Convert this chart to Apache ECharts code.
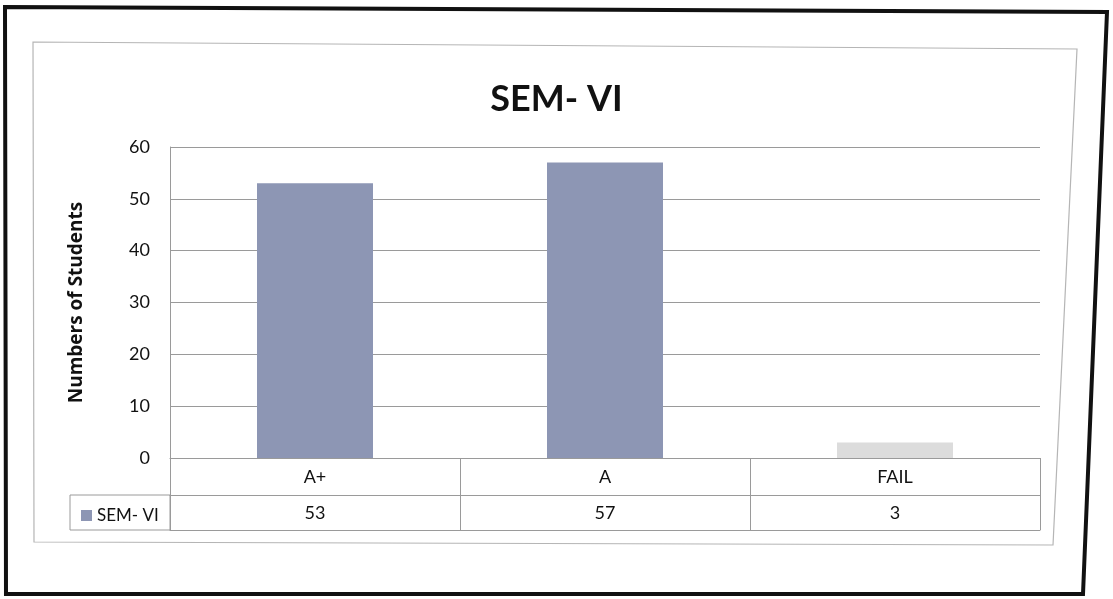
<!DOCTYPE html>
<html>
<head>
<meta charset="utf-8">
<script src="https://cdn.jsdelivr.net/npm/echarts@6/dist/echarts.min.js"></script>
<style>
  html, body { margin: 0; padding: 0; background: #fff; }
  #chart { width: 1113px; height: 599px; }
</style>
</head>
<body>
<div id="chart"></div>
<script>
// data
var categories = ['A+', 'A', 'FAIL'];
var semVI = [53, 57, 3];
var seriesName = 'SEM- VI';
var yMin = 0, yMax = 60, yStep = 10;

var barColor = '#8d96b4';
var failColor = '#dcdcdc';
var lineColor = '#9a9a9a';
var font = 'Lato, "Open Sans", sans-serif';

var chart = echarts.init(document.getElementById('chart'));

chart.setOption({
    backgroundColor: '#fff',
    animation: false,
    textStyle: { fontFamily: font, color: '#111' },
    title: {
        text: seriesName,
        left: 'center',
        top: 76,
        textStyle: { fontFamily: font, fontSize: 36, fontWeight: 'bold', color: '#111' }
    },
    legend: {
        data: [seriesName],
        left: 76,
        top: 502,
        icon: 'rect',
        itemWidth: 11,
        itemHeight: 11,
        itemGap: 4,
        textStyle: { fontFamily: font, fontSize: 17, color: '#111' }
    },
    grid: {
        left: 170,
        right: 73,
        top: 147,
        bottom: 141
    },
    xAxis: [
        {
            type: 'category',
            data: categories,
            axisLine: { show: true, lineStyle: { color: lineColor } },
            axisTick: { show: true, length: 72, lineStyle: { color: lineColor } },
            axisLabel: { fontFamily: font, fontSize: 18, color: '#111', margin: 10 }
        },
        {
            type: 'category',
            position: 'bottom',
            offset: 37,
            data: semVI.map(function (v) { return String(v); }),
            axisLine: { show: true, lineStyle: { color: lineColor } },
            axisTick: { show: false },
            axisLabel: { fontFamily: font, fontSize: 18, color: '#111', margin: 9 }
        },
        {
            type: 'category',
            position: 'bottom',
            offset: 72,
            data: categories,
            axisLine: { show: true, lineStyle: { color: lineColor } },
            axisTick: { show: false },
            axisLabel: { show: false }
        }
    ],
    yAxis: {
        type: 'value',
        min: yMin,
        max: yMax,
        interval: yStep,
        name: 'Numbers of Students',
        nameLocation: 'middle',
        nameGap: 84,
        nameTextStyle: { fontFamily: '"Open Sans", sans-serif', fontSize: 19, fontWeight: 'bold', color: '#111' },
        axisLine: { show: true, lineStyle: { color: lineColor } },
        axisTick: { show: false },
        axisLabel: { fontFamily: font, fontSize: 18, color: '#111', margin: 20 },
        splitLine: { show: true, lineStyle: { color: lineColor, width: 1 } }
    },
    series: [
        {
            name: seriesName,
            type: 'bar',
            barWidth: '40%',
            itemStyle: { color: barColor },
            data: semVI.map(function (v, i) {
                return categories[i] === 'FAIL'
                    ? { value: v, itemStyle: { color: failColor } }
                    : v;
            })
        }
    ],
    graphic: [
        // photographed paper frame
        {
            type: 'polygon',
            z: 100,
            shape: { points: [[5, 7], [1107, 12], [1083, 594], [6, 594]] },
            style: { fill: null, stroke: '#111', lineWidth: 4 }
        },
        // chart area border
        {
            type: 'polygon',
            z: 100,
            shape: { points: [[33, 42], [1077, 49], [1053, 545], [34, 542]] },
            style: { fill: null, stroke: '#b5b5b5', lineWidth: 1.2 }
        },
        // legend key cell of the data table
        {
            type: 'rect',
            z: 100,
            shape: { x: 70, y: 495, width: 100, height: 35 },
            style: { fill: null, stroke: lineColor, lineWidth: 1 }
        }
    ]
});
</script>
</body>
</html>
